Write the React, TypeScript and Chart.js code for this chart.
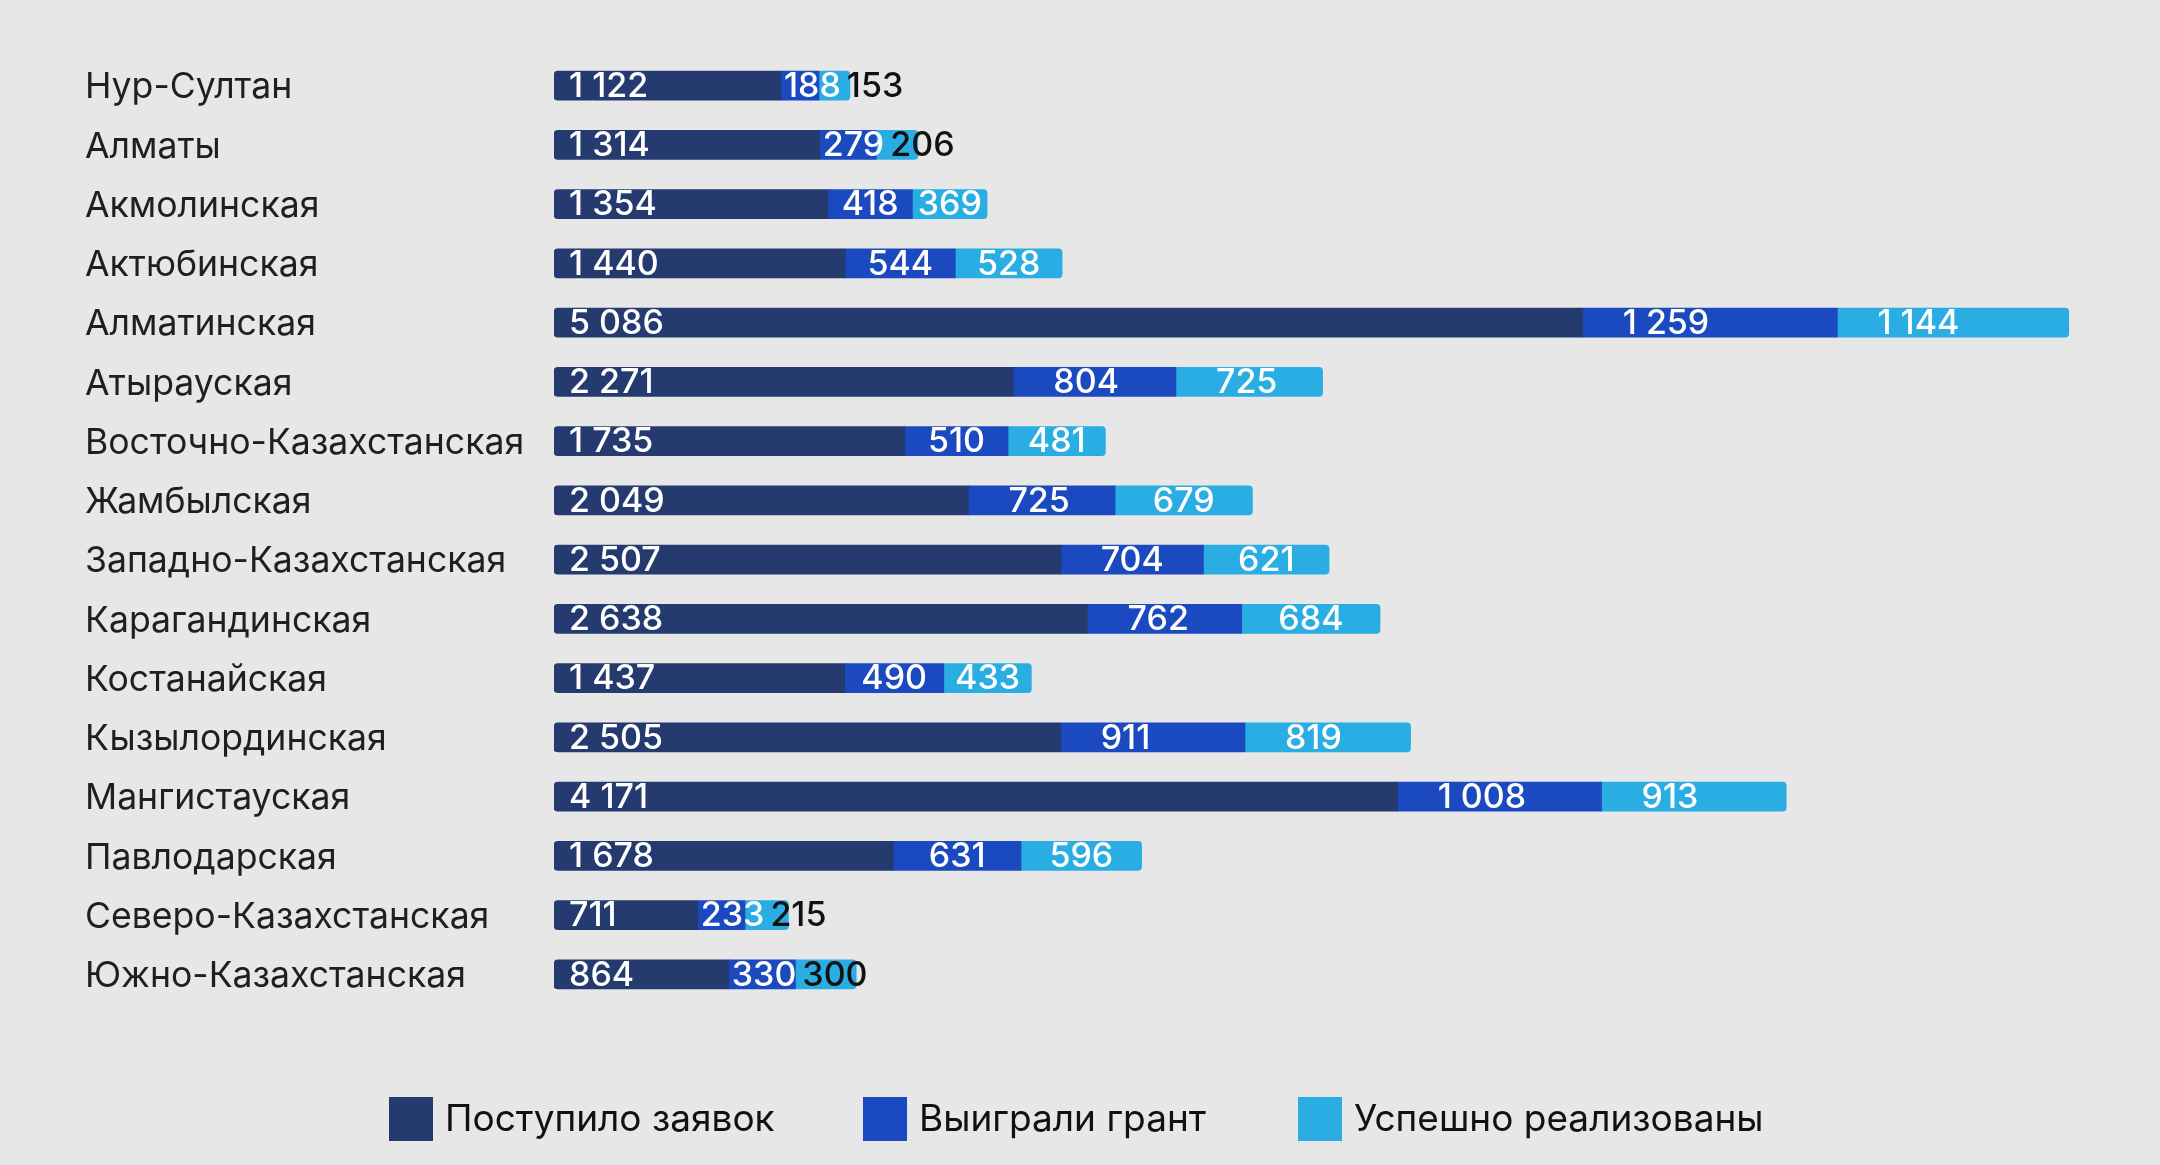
import React, { useEffect, useRef } from 'react';
import { Chart, registerables } from 'chart.js';

Chart.register(...registerables);

const categories = [
  'Нур-Султан',
  'Алматы',
  'Акмолинская',
  'Актюбинская',
  'Алматинская',
  'Атырауская',
  'Восточно-Казахстанская',
  'Жамбылская',
  'Западно-Казахстанская',
  'Карагандинская',
  'Костанайская',
  'Кызылординская',
  'Мангистауская',
  'Павлодарская',
  'Северо-Казахстанская',
  'Южно-Казахстанская',
];
const applied = [1122, 1314, 1354, 1440, 5086, 2271, 1735, 2049, 2507, 2638, 1437, 2505, 4171, 1678, 711, 864];
const won = [188, 279, 418, 544, 1259, 804, 510, 725, 704, 762, 490, 911, 1008, 631, 233, 330];
const done = [153, 206, 369, 528, 1144, 725, 481, 679, 621, 684, 433, 819, 913, 596, 215, 300];
const seriesNames = ['Поступило заявок', 'Выиграли грант', 'Успешно реализованы'];
const xMax = 7500;

const COLORS = ['#253b6f', '#1b49bf', '#29ade2'];
const BG = '#e7e7e7';
const FONT = 'Inter, "Noto Sans", sans-serif';
const W = 2160;
const H = 1165;

function fmt(v: number): string {
  const s = String(v);
  return s.length > 3 ? s.slice(0, -3) + ' ' + s.slice(-3) : s;
}

const labelPlugin = {
  id: 'customLabels',
  afterDatasetsDraw(chart: any) {
    const ctx = chart.ctx as CanvasRenderingContext2D;
    ctx.save();
    const yScale = chart.scales.y;
    ctx.textAlign = 'left';
    ctx.textBaseline = 'middle';

    // category labels
    ctx.font = `400 35.6px ${FONT}`;
    ctx.fillStyle = '#1f1f1f';
    categories.forEach((c, i) => {
      const y = yScale.getPixelForValue(i);
      ctx.fillText(c, 85, y + 2);
    });

    // value labels
    ctx.font = `500 34px ${FONT}`;
    const nDs = chart.data.datasets.length;
    for (let i = 0; i < categories.length; i++) {
      let prevEnd = -Infinity;
      const lastEl = chart.getDatasetMeta(nDs - 1).data[i];
      const barEnd = Math.max(lastEl.x, lastEl.base);
      chart.data.datasets.forEach((ds: any, d: number) => {
        const el = chart.getDatasetMeta(d).data[i];
        const left = Math.min(el.x, el.base);
        const right = Math.max(el.x, el.base);
        const w = right - left;
        const txt = fmt(ds.data[i]);
        const tw = ctx.measureText(txt).width;
        const pad = d === 0 ? 15 : Math.max(3, Math.min((w - tw) / 2, 40));
        const tx = Math.max(left + pad, prevEnd + 6);
        ctx.fillStyle = tx + tw <= barEnd + 1 ? '#ffffff' : '#111111';
        ctx.fillText(txt, tx, el.y + 1);
        prevEnd = tx + tw;
      });
    }

    // legend
    const legendX = [389, 863, 1298];
    const sq = 44;
    const ly = 1119;
    ctx.font = `400 37px ${FONT}`;
    chart.data.datasets.forEach((ds: any, d: number) => {
      ctx.fillStyle = ds.backgroundColor;
      ctx.fillRect(legendX[d], ly - sq / 2, sq, sq);
      ctx.fillStyle = '#111111';
      ctx.fillText(ds.label, legendX[d] + sq + 12, ly + 1);
    });
    ctx.restore();
  },
};

export default function App() {
  const ref = useRef<HTMLCanvasElement | null>(null);

  useEffect(() => {
    document.body.style.margin = '0';
    document.body.style.background = BG;
    const canvas = ref.current;
    if (!canvas) return;
    const series = [applied, won, done];
    const chart = new Chart(canvas, {
      type: 'bar',
      data: {
        labels: categories,
        datasets: series.map((data, d) => ({
          label: seriesNames[d],
          data,
          backgroundColor: COLORS[d],
          borderWidth: 0,
          borderSkipped: false,
          borderRadius:
            d === 0
              ? { topLeft: 4, bottomLeft: 4, topRight: 0, bottomRight: 0 }
              : d === series.length - 1
              ? { topLeft: 0, bottomLeft: 0, topRight: 4, bottomRight: 4 }
              : 0,
          barThickness: 29,
        })),
      },
      options: {
        indexAxis: 'y',
        responsive: false,
        animation: false,
        devicePixelRatio: 1,
        layout: { padding: { left: 554, right: 89, top: 56, bottom: 161 } },
        scales: {
          x: { stacked: true, display: false, min: 0, max: xMax },
          y: { stacked: true, display: false },
        },
        plugins: {
          legend: { display: false },
          tooltip: { enabled: false },
        },
      } as any,
      plugins: [labelPlugin],
    });
    return () => chart.destroy();
  }, []);

  return (
    <div style={{ position: 'fixed', left: 0, top: 0, width: W, height: H, background: BG }}>
      <canvas ref={ref} width={W} height={H} style={{ width: W, height: H, display: 'block' }} />
    </div>
  );
}
